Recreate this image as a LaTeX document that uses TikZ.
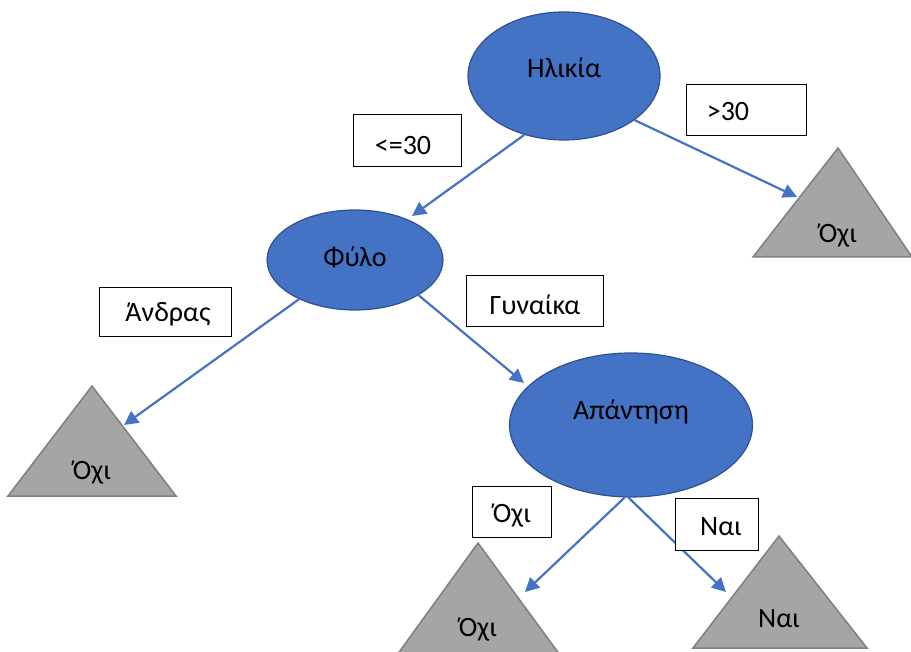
\documentclass[tikz,border=0pt]{standalone}
\usepackage{fontspec}
\setmainfont{Carlito}
\usetikzlibrary{shapes.geometric,arrows.meta}
\definecolor{nodeblue}{HTML}{4472C4}
\definecolor{nodeedge}{HTML}{2F528F}
\definecolor{trifill}{HTML}{A5A5A5}
\definecolor{triedge}{HTML}{7F7F7F}
\begin{document}
\begin{tikzpicture}[x=1pt,y=-1pt,
  ell/.style={ellipse,draw=nodeedge,fill=nodeblue,line width=1.2pt,inner sep=0pt},
  lab/.style={draw=black,fill=white,line width=0.8pt,inner sep=0pt},
  txt/.style={font=\fontsize{28}{32}\selectfont,inner sep=0pt},
  tri/.style={draw=triedge,fill=trifill,line width=1.5pt,line join=miter},
  arr/.style={draw=nodeblue,line width=2.2pt,-{Triangle[length=14pt,width=14pt]}}]
\useasboundingbox (0,0) rectangle (911,652);
% ellipses
\node[ell,minimum width=192pt,minimum height=128pt] (hl) at (564,76) {};
\node[txt] at (564,68) {Ηλικία};
\node[ell,minimum width=176pt,minimum height=100pt] (fy) at (355,260) {};
\node[txt] at (355,257) {Φύλο};
\node[ell,minimum width=243pt,minimum height=144pt] (ap) at (631,425) {};
\node[txt] at (631,412) {Απάντηση};
% triangles
\path[tri] (838,148) -- (912,257) -- (753,257) -- cycle;
\node[txt] (t1) at (838,236) {Όχι};
\path[tri] (92,386) -- (176,496) -- (8,496) -- cycle;
\node[txt] (t2) at (92,473) {Όχι};
\path[tri] (478,543) -- (560,655) -- (397,655) -- cycle;
\node[txt] (t3) at (478,630) {Όχι};
\path[tri] (779,536) -- (867,648) -- (693,648) -- cycle;
\node[txt] (t4) at (779,619) {Ναι};
% arrow targets
\coordinate (e1) at (412,216);
\coordinate (e2) at (797,197);
\coordinate (e3) at (124,425);
\coordinate (e4) at (524,383);
\coordinate (e5) at (525,592);
\coordinate (e6) at (726,592);
% arrows
\draw[arr] (hl.236) -- (e1);
\draw[arr] (hl.-32) -- (e2);
\draw[arr] (fy.215) -- (e3);
\draw[arr] (fy.-29) -- (e4);
\draw[arr] (ap.265) -- (e5);
\draw[arr] (ap.268) -- (e6);
% labels
\node[lab,minimum width=108pt,minimum height=52pt] (l1) at (407,140) {};
\node[txt] at (403,146) {<=30};
\node[lab,minimum width=120pt,minimum height=51pt] (l2) at (746,110) {};
\node[txt] at (728,112) {>30};
\node[lab,minimum width=132pt,minimum height=49pt] (l3) at (165,312) {};
\node[txt] at (168,314) {Άνδρας};
\node[lab,minimum width=137pt,minimum height=51pt] (l4) at (535,301) {};
\node[txt] at (535,305) {Γυναίκα};
\node[lab,minimum width=79pt,minimum height=51pt] (l5) at (512,512) {};
\node[txt] at (512,516) {Όχι};
\node[lab,minimum width=83pt,minimum height=52pt] (l6) at (717,524) {};
\node[txt] at (721,527) {Ναι};
\end{tikzpicture}
\end{document}
